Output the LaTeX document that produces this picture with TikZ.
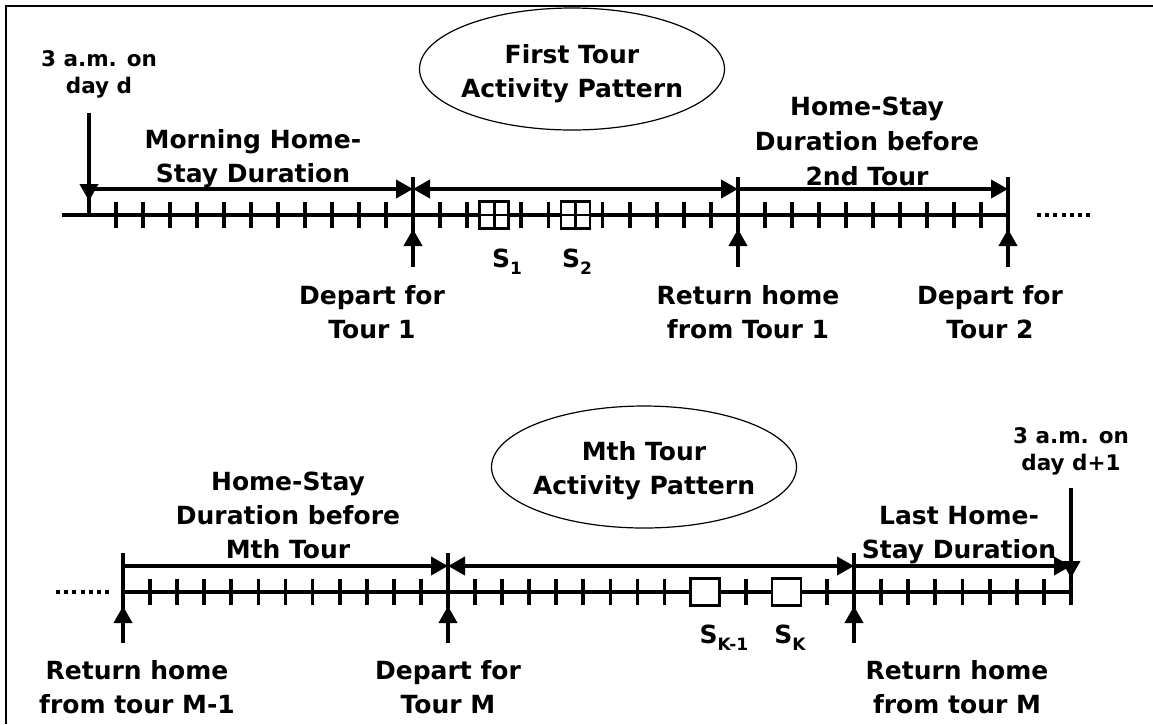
\documentclass[tikz,border=0pt]{standalone}
\usepackage{fontspec}
\setmainfont{DejaVu Sans}
\usetikzlibrary{arrows.meta,shapes.geometric}
\begin{document}
\begin{tikzpicture}[x=1pt,y=-1pt,
  ax/.style={line width=4pt},
  tk/.style={line width=3.8pt},
  arr/.style={line width=3.8pt,-{Triangle[length=17pt 0 0,width=18pt 0 0]}},
  darr/.style={line width=3.8pt,{Triangle[length=17pt 0 0,width=18pt 0 0]}-{Triangle[length=17pt 0 0,width=18pt 0 0]}},
  lbl/.style={font=\fontsize{25}{34}\selectfont\bfseries, align=center, inner sep=0pt, anchor=base},
  sml/.style={font=\fontsize{21.5}{27}\selectfont\bfseries, align=center, inner sep=0pt, anchor=base},
  oval/.style={ellipse, draw, line width=1.2pt, minimum width=305pt, minimum height=122pt, inner sep=0pt},
  dots/.style={line width=4pt, dash pattern=on 4pt off 4.17pt},
  stopbox/.style={draw, line width=2.6pt, fill=white, minimum width=29pt, minimum height=27pt, inner sep=0pt, outer sep=0pt}
]
\useasboundingbox (0,0) rectangle (1153,724);
\draw[line width=2pt] (6,724) -- (6,6) -- (1153,6);

% ---------- top timeline ----------
\coordinate (a0) at (62,215);
\coordinate (p0) at (89,215);
\coordinate (p1) at (413,215);
\coordinate (p2) at (738,215);
\coordinate (p3) at (1008,215);
\draw[ax] (a0) -- (p3);
\foreach \k in {1,...,11} \draw[tk] ({89+27*\k},202) -- ++(0,26);
\foreach \k in {1,2,4,5,7,8,9,10,11} \draw[tk] ({413+27.083*\k},202) -- ++(0,26);
\foreach \k in {1,...,9} \draw[tk] ({738+27*\k},202) -- ++(0,26);
\foreach \x in {413,738,1008} {
  \draw[tk] (\x,177) -- (\x,232);
  \draw[arr] (\x,267) -- (\x,229);
}
\coordinate (d0) at (89,113);
\draw[tk] (89,195) -- (p0);
\draw[arr] (d0) -- (89,201);
\draw[arr] (89,189) -- (413,189);
\draw[darr] (413,189) -- (738,189);
\draw[arr] (738,189) -- (1008,189);
\node[stopbox] (s1box) at (494.25,215) {};
\node[stopbox] (s2box) at (575.5,215) {};
\foreach \b in {s1box,s2box}
  \draw[line width=2.6pt] (\b.north) -- (\b.south) (\b.west) -- (\b.east);
\draw[dots] (1037,215) -- (1092,215);

\node[sml] (am1) at (99,93) {3 a.m. on\\day d};
\node[lbl] (hs0) at (253,182) {Morning Home-\\Stay Duration};
\node[oval] (ell1) at (572,69) {};
\node[lbl] (t1) at (572,97) {First Tour\\Activity Pattern};
\node[lbl] (hs1) at (867,185) {Home-Stay\\[1pt]Duration before\\[1pt]2nd Tour};
\node[lbl] (dep1) at (372,338) {Depart for\\Tour 1};
\node[lbl] (ret1) at (748,338) {Return home\\from Tour 1};
\node[lbl] (dep2) at (990,338) {Depart for\\Tour 2};
\node[lbl] (s1) at (507,267) {S\raisebox{-7pt}{\fontsize{17}{17}\selectfont 1}};
\node[lbl] (s2) at (577,267) {S\raisebox{-7pt}{\fontsize{17}{17}\selectfont 2}};

% ---------- bottom timeline ----------
\coordinate (b0) at (123,592);
\coordinate (q1) at (448,592);
\coordinate (q2) at (854,592);
\coordinate (q3) at (1071,592);
\draw[ax] (b0) -- (q3);
\foreach \k in {1,...,11} \draw[tk] ({123+27.083*\k},579) -- ++(0,26);
\foreach \k in {1,...,8,11,14} \draw[tk] ({448+27.067*\k},579) -- ++(0,26);
\foreach \k in {1,...,7} \draw[tk] ({854+27.125*\k},579) -- ++(0,26);
\foreach \x in {123,448,854} {
  \draw[tk] (\x,553) -- (\x,609);
  \draw[arr] (\x,643) -- (\x,606);
}
\coordinate (d1) at (1071,488);
\draw[tk] (1071,572) -- (1071,605);
\draw[arr] (d1) -- (1071,578);
\draw[arr] (123,566) -- (448,566);
\draw[darr] (448,566) -- (854,566);
\draw[arr] (854,566) -- (1071,566);
\node[stopbox] (sk1box) at (705.1,592) {};
\node[stopbox] (skbox) at (786.3,592) {};
\draw[dots] (56,592) -- (111,592);

\node[oval] (ell2) at (644,467) {};
\node[lbl] (tM) at (644,494) {Mth Tour\\Activity Pattern};
\node[lbl] (hsM) at (288,558) {Home-Stay\\Duration before\\Mth Tour};
\node[sml] (am2) at (1071,470) {3 a.m. on\\day d+1};
\node[lbl] (last) at (959,558) {Last Home-\\Stay Duration};
\node[lbl] (retM1) at (137,713) {Return home\\from tour M-1};
\node[lbl] (depM) at (448,713) {Depart for\\Tour M};
\node[lbl] (retM) at (957,713) {Return home\\from tour M};
\node[lbl] (sk1) at (724,643) {S\raisebox{-7pt}{\fontsize{17}{17}\selectfont K-1}};
\node[lbl] (sk) at (790,643) {S\raisebox{-7pt}{\fontsize{17}{17}\selectfont K}};
\end{tikzpicture}
\end{document}
